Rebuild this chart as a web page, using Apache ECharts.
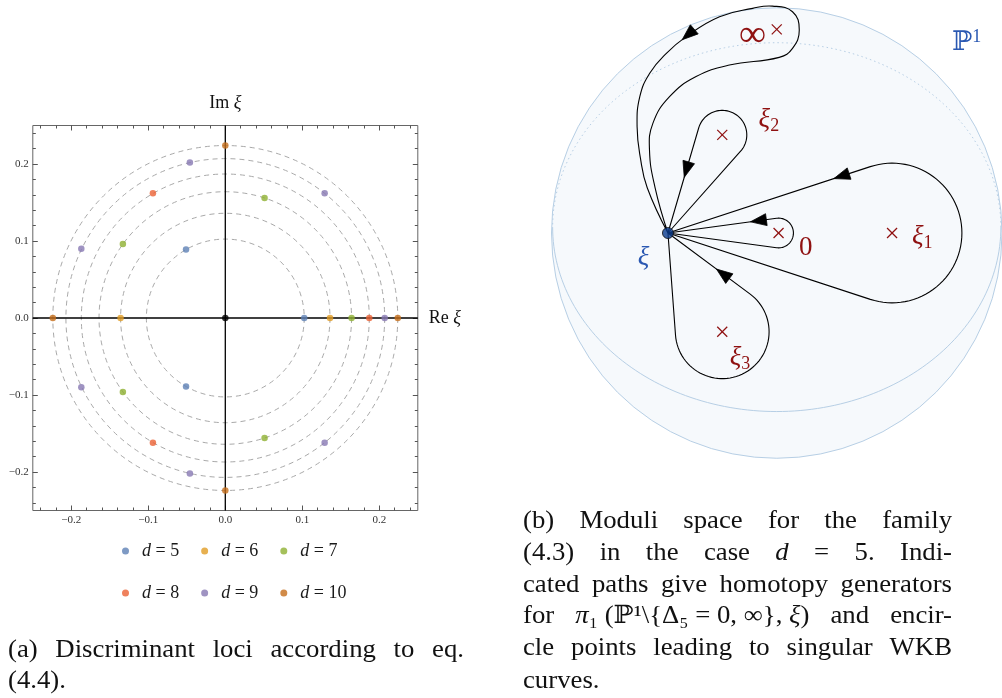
<!DOCTYPE html>
<html>
<head>
<meta charset="utf-8">
<script src="https://cdn.jsdelivr.net/npm/echarts@6/dist/echarts.min.js"></script>
<style>
  html, body { margin: 0; padding: 0; background: #fff; }
  #main { width: 1002px; height: 698px; }
</style>
</head>
<body>
<div id="main"></div>
<script>
// ---------- (a) discriminant loci in the ξ-plane ----------
const seriesNames = ['d = 5', 'd = 6', 'd = 7', 'd = 8', 'd = 9', 'd = 10'];
const lociD5  = [[0.1025, 0], [-0.051, 0.089], [-0.051, -0.089]];
const lociD6  = [[0.136, 0], [-0.136, 0]];
const lociD7  = [[0.164, 0], [0.051, 0.156], [-0.133, 0.096], [-0.133, -0.096], [0.051, -0.156]];
const lociD8  = [[0.187, 0], [-0.094, 0.162], [-0.094, -0.162]];
const lociD9  = [[0.207, 0], [0.129, 0.162], [-0.046, 0.202], [-0.187, 0.090],
                 [-0.187, -0.090], [-0.046, -0.202], [0.129, -0.162]];
const lociD10 = [[0.224, 0], [0, 0.224], [-0.224, 0], [0, -0.224]];
const originPoint = [[0, 0]];
const ringRadii = [0.1025, 0.136, 0.164, 0.187, 0.207, 0.224];
const majorTicks = [-0.2, -0.1, 0, 0.1, 0.2];
const minorTicks = [-0.24, -0.22, -0.2, -0.18, -0.16, -0.14, -0.12, -0.1, -0.08, -0.06, -0.04, -0.02, 0,
                    0.02, 0.04, 0.06, 0.08, 0.1, 0.12, 0.14, 0.16, 0.18, 0.2, 0.22, 0.24];
const palette = ['#5E81B5', '#E19C24', '#8FB032', '#EB6235', '#8778B3', '#C56E1A'];
const lociSets = [lociD5, lociD6, lociD7, lociD8, lociD9, lociD10];

// ---------- (b) moduli space, in units of the sphere radius ----------
const sphere = [0, 0, 1];                       // centre u, v, radius
const equator = [0, 0.026, 0.995, 0.816];       // centre u, v, semi-axes a, b
const basePoint = [-0.483, 0];
const punctureNames = ['∞', 'ξ2', '0', 'ξ1', 'ξ3'];
const puncturePos = [[0, 0.901], [-0.242, 0.434], [0.008, 0], [0.512, 0], [-0.242, -0.437]];
const loopTargets = [2, 3, 1, 4];               // indices into puncturePos
const loopRadii = [0.066, 0.31, 0.109, 0.208];
const loopArrowAt = [0.24, 0.18, 0.47, 0.41];   // arrow position along the returning leg
const infinityPath = [
  [-0.483, 0.0], [-0.575, 0.20], [-0.605, 0.33], [-0.620, 0.47], [-0.608, 0.603],
  [-0.564, 0.707], [-0.490, 0.795], [-0.402, 0.869], [-0.254, 0.957], [-0.107, 0.994],
  [-0.019, 1.004], [0.070, 0.979], [0.100, 0.898], [0.070, 0.817], [0.011, 0.777],
  [-0.210, 0.743], [-0.358, 0.692], [-0.476, 0.603], [-0.550, 0.485], [-0.565, 0.367],
  [-0.540, 0.20], [-0.483, 0.0]
];
const infinityArrow = [[-0.42, 0.855], [-0.49, 0.795]];   // tip, direction point
const labelTexts = ['{inf|∞}', '{x|ξ}{s|2}', '{n|0}', '{x|ξ}{s|1}', '{x|ξ}{s|3}'];
const labelPos = [[-0.108, 0.872], [-0.035, 0.50], [0.129, -0.066], [0.646, -0.018], [-0.163, -0.553]];
const baseLabelPos = [-0.591, -0.111];
const sphereLabelPos = [0.843, 0.841];

const captionA = [
  ['(a)', 'Discriminant', 'loci', 'according', 'to', 'eq.'],
  ['(4.4).']
];
const captionB = [
  ['(b)', 'Moduli', 'space', 'for', 'the', 'family'],
  ['(4.3)', 'in', 'the', 'case', '{i|d}', '=', '5.', 'Indi-'],
  ['cated', 'paths', 'give', 'homotopy', 'generators'],
  ['for', '{i|π}₁ (ℙ¹\\{Δ₅ = 0, ∞}, {i|ξ})', 'and', 'encir-'],
  ['cle', 'points', 'leading', 'to', 'singular', 'WKB'],
  ['curves.']
];

// ---------- styling ----------
const SERIF = '"Liberation Serif", "DejaVu Serif", serif';
const DARK_RED = '#8f1111';
const BLUE = '#2a58b2';

// ---------- caption layout (justified like the typeset text) ----------
const mctx = document.createElement('canvas').getContext('2d');
const CAP_SIZE = 25;
const CAP_SCALE = 1.07;
const TOKEN_RE = /\{([a-zA-Z0-9_]+)\|([^}]*)\}/g;
function tokenWidth(tok) {
  let w = 0, last = 0, m;
  TOKEN_RE.lastIndex = 0;
  while ((m = TOKEN_RE.exec(tok)) !== null) {
    mctx.font = CAP_SIZE + 'px ' + SERIF;
    w += mctx.measureText(tok.slice(last, m.index)).width;
    mctx.font = 'italic ' + CAP_SIZE + 'px ' + SERIF;
    w += mctx.measureText(m[2]).width;
    last = m.index + m[0].length;
  }
  mctx.font = CAP_SIZE + 'px ' + SERIF;
  w += mctx.measureText(tok.slice(last)).width;
  return w * CAP_SCALE;
}
function captionElements(lines, x0, x1, ys) {
  const els = [];
  mctx.font = CAP_SIZE + 'px ' + SERIF;
  const space = mctx.measureText(' ').width * CAP_SCALE;
  lines.forEach((tokens, li) => {
    const widths = tokens.map(tokenWidth);
    const total = widths.reduce((a, b) => a + b, 0);
    const justify = li < lines.length - 1 && tokens.length > 1;
    const gap = justify ? (x1 - x0 - total) / (tokens.length - 1) : space;
    let x = x0;
    tokens.forEach((tok, i) => {
      els.push({
        type: 'text', x: x, y: ys[li], scaleX: CAP_SCALE, silent: true,
        style: {
          text: tok, fill: '#111', align: 'left', verticalAlign: 'middle',
          fontSize: CAP_SIZE, fontFamily: SERIF,
          rich: { i: { fontStyle: 'italic', fontSize: CAP_SIZE, fontFamily: SERIF, fill: '#111' } }
        }
      });
      x += widths[i] + gap;
    });
  });
  return els;
}

// ---------- axes of panel (a) ----------
function tickFmt(v) {
  return (v < 0 ? '\u2212' : '') + Math.abs(v).toFixed(1);
}
function frameAxis(position, ticks, len, withLabels) {
  return {
    type: 'value', gridIndex: 0, position: position, min: -0.25, max: 0.25,
    axisLine: { show: false, onZero: false },
    splitLine: { show: false },
    axisTick: { show: true, inside: true, length: len, customValues: ticks,
                lineStyle: { color: '#555', width: 1 } },
    axisLabel: withLabels
      ? { show: true, customValues: majorTicks, formatter: tickFmt, margin: 4,
          fontFamily: SERIF, fontSize: 11, color: '#333' }
      : { show: false }
  };
}
const hiddenAxis = { type: 'value', gridIndex: 1, min: -1, max: 1, show: false,
                     axisLine: { onZero: false }, splitLine: { show: false } };

// ---------- render helpers for panel (b) ----------
function norm(v) { const l = Math.hypot(v[0], v[1]); return [v[0] / l, v[1] / l]; }
function arrowHead(tip, dir) {
  const L = 16, W = 6;
  const n = [-dir[1], dir[0]];
  const bx = tip[0] - L * dir[0], by = tip[1] - L * dir[1];
  return {
    type: 'polygon',
    shape: { points: [tip, [bx + W * n[0], by + W * n[1]], [bx - W * n[0], by - W * n[1]]] },
    style: { fill: '#000', stroke: '#000', lineWidth: 0.8 }
  };
}
function renderLoop(params, api) {
  const k = params.dataIndex;
  const b = api.coord(basePoint);
  const c = api.coord(puncturePos[loopTargets[k]]);
  const r = api.size([loopRadii[k], 0])[0];
  const dx = c[0] - b[0], dy = c[1] - b[1];
  const d = Math.hypot(dx, dy), th = Math.atan2(dy, dx);
  const al = Math.asin(r / d), L = Math.sqrt(d * d - r * r);
  const t1 = [b[0] + L * Math.cos(th - al), b[1] + L * Math.sin(th - al)];
  const t2 = [b[0] + L * Math.cos(th + al), b[1] + L * Math.sin(th + al)];
  const a1 = Math.atan2(t1[1] - c[1], t1[0] - c[0]);
  const a2 = Math.atan2(t2[1] - c[1], t2[0] - c[0]);
  const TAU = Math.PI * 2;
  let sweep = ((a1 - a2) % TAU + TAU) % TAU;
  const rel = ((th - a2) % TAU + TAU) % TAU;
  if (rel > sweep) sweep -= TAU;
  const pts = [b, t2];
  const N = 60;
  for (let i = 1; i < N; i++) {
    const a = a2 + sweep * i / N;
    pts.push([c[0] + r * Math.cos(a), c[1] + r * Math.sin(a)]);
  }
  pts.push(t1, b);
  const f = loopArrowAt[k];
  const tip = [t1[0] + f * (b[0] - t1[0]), t1[1] + f * (b[1] - t1[1])];
  return {
    type: 'group',
    children: [
      { type: 'polyline', shape: { points: pts },
        style: { stroke: '#000', lineWidth: 1.1, fill: null } },
      arrowHead(tip, norm([b[0] - t1[0], b[1] - t1[1]]))
    ]
  };
}
function renderInfinityLoop(params, api) {
  const pts = infinityPath.map(p => api.coord(p));
  const tip = api.coord(infinityArrow[0]);
  const to = api.coord(infinityArrow[1]);
  return {
    type: 'group',
    children: [
      { type: 'polyline', shape: { points: pts, smooth: 0.45 },
        style: { stroke: '#000', lineWidth: 1.1, fill: null } },
      arrowHead(tip, norm([to[0] - tip[0], to[1] - tip[1]]))
    ]
  };
}
function renderSphere(params, api) {
  const c = api.coord([sphere[0], sphere[1]]);
  const R = api.size([sphere[2], 0])[0];
  const e = api.coord([equator[0], equator[1]]);
  const ea = api.size([equator[2], 0])[0];
  const eb = api.size([0, equator[3]])[1];
  const lower = [], upper = [];
  const N = 120;
  for (let i = 0; i <= N; i++) {
    const t = Math.PI * i / N;
    lower.push([e[0] + ea * Math.cos(t), e[1] + eb * Math.sin(t)]);
    upper.push([e[0] + ea * Math.cos(t), e[1] - eb * Math.sin(t)]);
  }
  return {
    type: 'group',
    children: [
      { type: 'circle', shape: { cx: c[0], cy: c[1], r: R },
        style: { fill: '#f6f9fc', stroke: '#b7cfe5', lineWidth: 1 } },
      { type: 'polyline', shape: { points: upper },
        style: { stroke: '#b7cfe5', lineWidth: 1, lineDash: [1.5, 3], fill: null } },
      { type: 'polyline', shape: { points: lower },
        style: { stroke: '#b7cfe5', lineWidth: 1, fill: null } }
    ]
  };
}
function renderCross(params, api) {
  const p = api.coord(puncturePos[params.dataIndex]);
  const s = 5;
  const st = { stroke: DARK_RED, lineWidth: 1.2 };
  return {
    type: 'group',
    children: [
      { type: 'line', shape: { x1: p[0] - s, y1: p[1] - s, x2: p[0] + s, y2: p[1] + s }, style: st },
      { type: 'line', shape: { x1: p[0] - s, y1: p[1] + s, x2: p[0] + s, y2: p[1] - s }, style: st }
    ]
  };
}
const labelRich = {
  n: { fontSize: 27, fontFamily: SERIF, lineHeight: 30 },
  inf: { fontSize: 38, fontFamily: SERIF, lineHeight: 30 },
  x: { fontSize: 27, fontFamily: SERIF, fontStyle: 'italic', lineHeight: 30 },
  s: { fontSize: 18, fontFamily: SERIF, verticalAlign: 'bottom', lineHeight: 18 },
  p: { fontSize: 18, fontFamily: SERIF, verticalAlign: 'top', lineHeight: 18 }
};
function labelEl(p, text, color) {
  return {
    type: 'text', x: p[0], y: p[1],
    style: { text: text, fill: color, align: 'center', verticalAlign: 'middle', rich: labelRich }
  };
}
function renderLabels(params, api) {
  const children = labelTexts.map((t, i) => labelEl(api.coord(labelPos[i]), t, DARK_RED));
  children.push(labelEl(api.coord(baseLabelPos), '{x|ξ}', BLUE));
  children.push(labelEl(api.coord(sphereLabelPos), '{n|ℙ}{p|1}', BLUE));
  return { type: 'group', children: children };
}

// ---------- panel (a) custom drawing: dashed rings and coordinate axes ----------
function renderRing(params, api) {
  const c = api.coord([0, 0]);
  const r = api.size([ringRadii[params.dataIndex], 0])[0];
  return { type: 'circle', shape: { cx: c[0], cy: c[1], r: r },
           style: { fill: null, stroke: '#a9a9a9', lineWidth: 1, lineDash: [5, 4] } };
}
const axisNameRich = {
  r: { fontSize: 18, fontFamily: SERIF, fill: '#111' },
  i: { fontSize: 18, fontFamily: SERIF, fontStyle: 'italic', fill: '#111' }
};
function renderCoordAxes(params, api) {
  const l = api.coord([-0.25, 0]), rr = api.coord([0.25, 0]);
  const b = api.coord([0, -0.25]), t = api.coord([0, 0.25]);
  const st = { stroke: '#000', lineWidth: 1.3 };
  return {
    type: 'group',
    children: [
      { type: 'line', shape: { x1: l[0], y1: l[1], x2: rr[0], y2: rr[1] }, style: st },
      { type: 'line', shape: { x1: b[0], y1: b[1], x2: t[0], y2: t[1] }, style: st },
      { type: 'text', x: rr[0] + 11, y: rr[1],
        style: { text: '{r|Re }{i|ξ}', align: 'left', verticalAlign: 'middle', rich: axisNameRich } },
      { type: 'text', x: t[0], y: t[1] - 22,
        style: { text: '{r|Im }{i|ξ}', align: 'center', verticalAlign: 'middle', rich: axisNameRich } }
    ]
  };
}

// ---------- chart ----------
const chart = echarts.init(document.getElementById('main'), null, { width: 1002, height: 698 });

const legendCommon = {
  left: 117, icon: 'circle', itemWidth: 7, itemHeight: 7, itemGap: 22,
  selectedMode: false, orient: 'horizontal',
  formatter: n => '{g|}{i|d}' + n.slice(1),
  textStyle: {
    fontFamily: SERIF, fontSize: 18, color: '#1a1a1a',
    rich: { g: { width: 8 }, i: { fontStyle: 'italic', fontFamily: SERIF, fontSize: 18, color: '#1a1a1a' } }
  }
};

chart.setOption({
  animation: false,
  backgroundColor: '#fff',
  grid: [
    { left: 32.8, top: 125.5, width: 385, height: 385, show: true,
      borderColor: '#666', borderWidth: 1, backgroundColor: 'transparent' },
    { left: 551.5, top: 7, width: 452, height: 452, show: false }
  ],
  xAxis: [
    frameAxis('bottom', majorTicks, 5, true),
    frameAxis('top', majorTicks, 5, false),
    frameAxis('bottom', minorTicks, 3, false),
    frameAxis('top', minorTicks, 3, false),
    hiddenAxis
  ],
  yAxis: [
    frameAxis('left', majorTicks, 5, true),
    frameAxis('right', majorTicks, 5, false),
    frameAxis('left', minorTicks, 3, false),
    frameAxis('right', minorTicks, 3, false),
    hiddenAxis
  ],
  legend: [
    Object.assign({}, legendCommon, { top: 537, data: seriesNames.slice(0, 3) }),
    Object.assign({}, legendCommon, { top: 579, data: seriesNames.slice(3) })
  ],
  graphic: {
    elements: captionElements(captionA, 8, 464, [650, 681])
      .concat(captionElements(captionB, 523, 952, [521.7, 553.3, 585, 616.7, 648.3, 681.7]))
  },
  series: [
    { type: 'custom', name: 'rings', xAxisIndex: 0, yAxisIndex: 0, z: 1, silent: true,
      data: ringRadii.map(r => [r, 0]), renderItem: renderRing },
    { type: 'custom', name: 'axes', xAxisIndex: 0, yAxisIndex: 0, z: 2, silent: true,
      data: originPoint, renderItem: renderCoordAxes },
    ...lociSets.map((pts, i) => ({
      type: 'scatter', name: seriesNames[i], xAxisIndex: 0, yAxisIndex: 0, z: 3,
      data: pts, symbol: 'circle', symbolSize: 6.5, itemStyle: { color: palette[i] }
    })),
    { type: 'scatter', name: 'origin', xAxisIndex: 0, yAxisIndex: 0, z: 4,
      data: originPoint, symbolSize: 6.5, itemStyle: { color: '#000' } },

    { type: 'custom', name: 'sphere', xAxisIndex: 4, yAxisIndex: 4, z: 1, silent: true,
      data: [[sphere[0], sphere[1]]], renderItem: renderSphere },
    { type: 'custom', name: 'loops', xAxisIndex: 4, yAxisIndex: 4, z: 2, silent: true,
      data: loopTargets.map(k => puncturePos[k]), renderItem: renderLoop },
    { type: 'custom', name: 'infinity loop', xAxisIndex: 4, yAxisIndex: 4, z: 2, silent: true,
      data: [basePoint], renderItem: renderInfinityLoop },
    { type: 'custom', name: 'punctures', xAxisIndex: 4, yAxisIndex: 4, z: 3, silent: true,
      data: puncturePos, renderItem: renderCross },
    { type: 'custom', name: 'labels', xAxisIndex: 4, yAxisIndex: 4, z: 3, silent: true,
      data: [basePoint], renderItem: renderLabels },
    { type: 'scatter', name: 'base point', xAxisIndex: 4, yAxisIndex: 4, z: 5, silent: true,
      data: [basePoint], symbolSize: 11,
      itemStyle: { color: '#0b3c8e', borderColor: '#111', borderWidth: 1 } }
  ]
});
</script>
</body>
</html>
